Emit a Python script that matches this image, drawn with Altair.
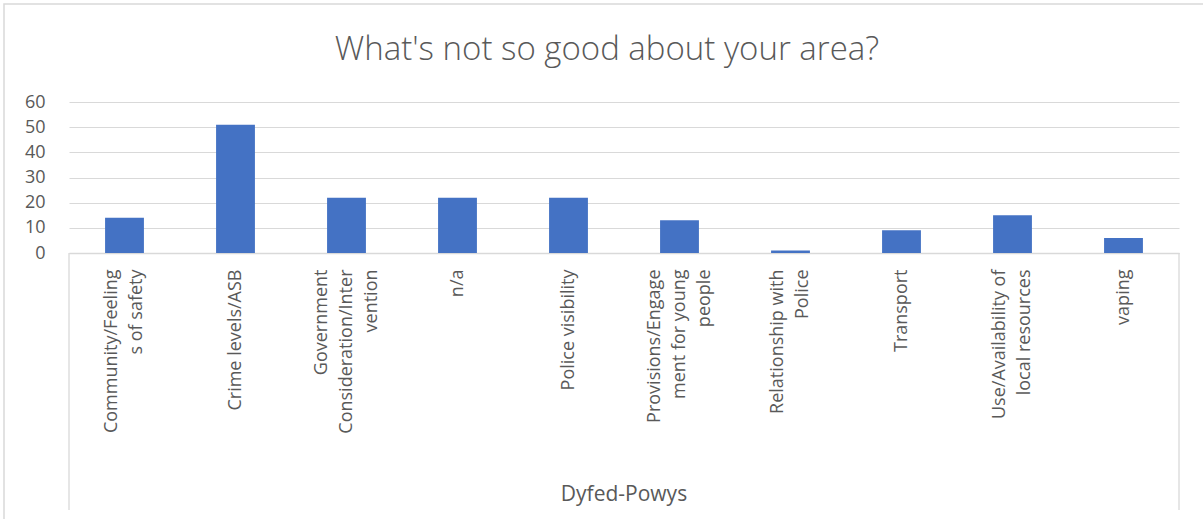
import altair as alt
import pandas as pd

# ---- data ----
categories = [
    "Community/Feeling\ns of safety",
    "Crime levels/ASB",
    "Government\nConsideration/Inter\nvention",
    "n/a",
    "Police visibility",
    "Provisions/Engage\nment for young\npeople",
    "Relationship with\nPolice",
    "Transport",
    "Use/Availability of\nlocal resources",
    "vaping",
]
counts = [14, 51, 22, 22, 22, 13, 1, 9, 15, 6]
y_ticks = [0, 10, 20, 30, 40, 50, 60]
chart_title = "What's not so good about your area?"
group_label = "Dyfed-Powys"

df = pd.DataFrame({"category": categories, "count": counts})

W, H = 1110, 151
FONT = "Open Sans"
GREY = "#595959"
LINE = "#d9d9d9"
BLUE = "#4472C4"
LH = 25

one = pd.DataFrame({"k": [0]})

border = alt.Chart(one).mark_rect(filled=False, stroke=LINE, strokeWidth=1.5).encode(
    x=alt.value(-65), x2=alt.value(1150), y=alt.value(-98), y2=alt.value(430)
)

label_offset = {
    "condition": [
        {"test": "length(split(datum.label, '\\n')) == 3", "value": -LH},
        {"test": "length(split(datum.label, '\\n')) == 2", "value": -LH / 2},
    ],
    "value": 0,
}

bars = alt.Chart(df).mark_bar(color=BLUE).encode(
    x=alt.X(
        "category:N",
        sort=None,
        scale=alt.Scale(paddingInner=0.65, paddingOuter=0.325),
        axis=alt.Axis(
            title=None,
            labelAngle=270,
            labelAlign="right",
            labelBaseline="middle",
            labelExpr="split(datum.label, '\\n')",
            labelLineHeight=LH,
            labelPadding=16,
            labelLimit=400,
            labelOffset=label_offset,
            ticks=False,
            tickSize=0,
            domainColor=LINE,
            domainWidth=1.3,
            labelFontSize=18,
            labelColor=GREY,
            labelFont=FONT,
        ),
    ),
    y=alt.Y(
        "count:Q",
        scale=alt.Scale(domain=[0, 60], nice=False),
        axis=alt.Axis(
            title=None,
            values=y_ticks,
            domain=False,
            ticks=False,
            tickSize=0,
            labelPadding=24,
            labelFontSize=18,
            labelColor=GREY,
            labelFont=FONT,
            gridColor=LINE,
            gridWidth=1,
        ),
    ),
)

left_bracket = alt.Chart(one).mark_rule(color=LINE, strokeWidth=1.3).encode(
    x=alt.value(0), y=alt.value(H), y2=alt.value(408)
)
right_bracket = alt.Chart(one).mark_rule(color=LINE, strokeWidth=1.3).encode(
    x=alt.value(W), y=alt.value(H), y2=alt.value(408)
)

title_mark = alt.Chart(pd.DataFrame({"t": [chart_title]})).mark_text(
    font=FONT, fontSize=33, fontWeight=300, color=GREY, align="center", baseline="alphabetic"
).encode(text="t:N", x=alt.value(538), y=alt.value(-42))

group_mark = alt.Chart(pd.DataFrame({"g": [group_label]})).mark_text(
    font=FONT, fontSize=21, color=GREY, align="center", baseline="alphabetic"
).encode(text="g:N", x=alt.value(W / 2), y=alt.value(399))

chart = (
    alt.layer(border, bars, left_bracket, right_bracket, title_mark, group_mark)
    .properties(
        width=W,
        height=H,
        padding={"left": 69, "top": 102, "right": 24, "bottom": 266},
        autosize=alt.AutoSizeParams(type="none"),
        background="white",
    )
    .configure_view(stroke=None)
)

chart.save("out.html", embed_options={"renderer": "svg", "actions": False})
